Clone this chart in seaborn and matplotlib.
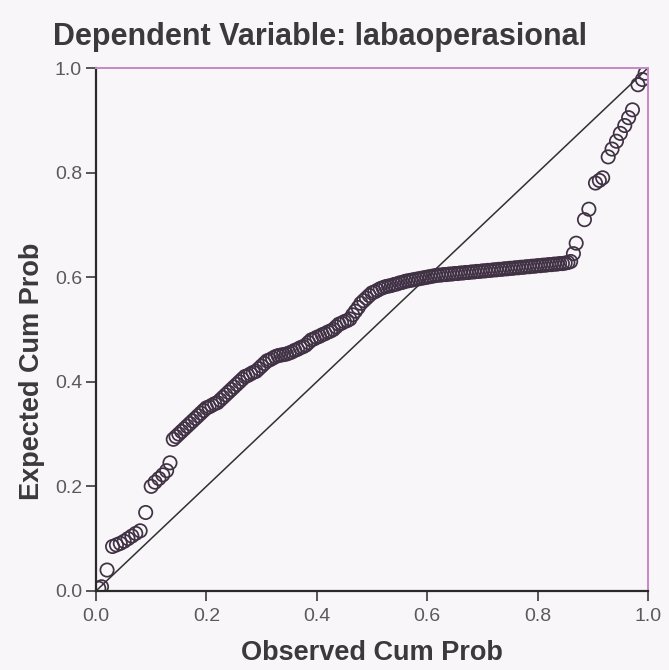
# Normal P-P plot of regression standardized residuals (SPSS style)

import matplotlib
matplotlib.use("Agg")
import matplotlib.pyplot as plt
import pandas as pd
import seaborn as sns

# Observed vs expected cumulative probabilities
observed_cum_prob = [
    # lower-left tail
    0.005, 0.010, 0.020, 0.030, 0.037, 0.044, 0.051, 0.058, 0.065, 0.072,
    0.080, 0.090, 0.100, 0.107, 0.114, 0.121, 0.128, 0.134,
    # rising section
    0.140, 0.145, 0.150, 0.155, 0.160, 0.165, 0.170, 0.175, 0.180, 0.185,
    0.190, 0.195, 0.200, 0.205, 0.210, 0.215, 0.220, 0.225, 0.230, 0.235,
    0.240, 0.245, 0.250, 0.255, 0.260, 0.265, 0.270, 0.275, 0.280, 0.285,
    0.290, 0.295, 0.300, 0.305, 0.310, 0.315, 0.320, 0.325, 0.330, 0.335,
    0.340, 0.345, 0.350, 0.355, 0.360, 0.365, 0.370, 0.375, 0.380, 0.385,
    0.390, 0.395, 0.400, 0.405, 0.410, 0.415, 0.420, 0.425, 0.430, 0.435,
    0.440, 0.445, 0.450, 0.455, 0.460, 0.465, 0.470, 0.475, 0.480, 0.485,
    0.490, 0.495, 0.500, 0.505, 0.510, 0.515, 0.520, 0.525, 0.530,
    # flat section
    0.535, 0.540, 0.545, 0.550, 0.555, 0.560, 0.565, 0.570, 0.575, 0.580,
    0.585, 0.590, 0.595, 0.600, 0.605, 0.610, 0.615, 0.620, 0.625, 0.630,
    0.635, 0.640, 0.645, 0.650, 0.655, 0.660, 0.665, 0.670, 0.675, 0.680,
    0.685, 0.690, 0.695, 0.700, 0.705, 0.710, 0.715, 0.720, 0.725, 0.730,
    0.735, 0.740, 0.745, 0.750, 0.755, 0.760, 0.765, 0.770, 0.775, 0.780,
    0.785, 0.790, 0.795, 0.800, 0.805, 0.810, 0.815, 0.820, 0.825, 0.830,
    0.835, 0.840, 0.845, 0.850, 0.855, 0.860,
    # upper-right tail
    0.865, 0.870, 0.885, 0.893, 0.905, 0.912, 0.918, 0.928, 0.935, 0.943,
    0.950, 0.958, 0.965, 0.972, 0.982, 0.990, 0.995,
]
expected_cum_prob = [
    0.005, 0.008, 0.040, 0.085, 0.088, 0.091, 0.095, 0.100, 0.105, 0.110,
    0.115, 0.150, 0.200, 0.208, 0.215, 0.222, 0.230, 0.245,
    0.290, 0.295, 0.300, 0.305, 0.310, 0.315, 0.320, 0.325, 0.330, 0.335,
    0.340, 0.345, 0.350, 0.352, 0.355, 0.358, 0.360, 0.365, 0.370, 0.375,
    0.380, 0.385, 0.390, 0.395, 0.400, 0.405, 0.410, 0.412, 0.415, 0.418,
    0.420, 0.425, 0.430, 0.435, 0.440, 0.442, 0.445, 0.448, 0.450, 0.451,
    0.452, 0.453, 0.455, 0.457, 0.460, 0.462, 0.465, 0.467, 0.470, 0.475,
    0.480, 0.482, 0.485, 0.487, 0.490, 0.492, 0.495, 0.497, 0.500, 0.505,
    0.510, 0.512, 0.515, 0.517, 0.520, 0.528, 0.535, 0.542, 0.550, 0.555,
    0.560, 0.565, 0.570, 0.572, 0.575, 0.578, 0.580, 0.582, 0.583,
    0.584, 0.586, 0.587, 0.589, 0.590, 0.592, 0.593, 0.594, 0.595, 0.596,
    0.597, 0.598, 0.599, 0.600, 0.601, 0.602, 0.603, 0.604, 0.604, 0.605,
    0.605, 0.606, 0.606, 0.607, 0.607, 0.608, 0.608, 0.609, 0.609, 0.610,
    0.610, 0.611, 0.611, 0.612, 0.612, 0.613, 0.613, 0.614, 0.614, 0.615,
    0.615, 0.616, 0.616, 0.617, 0.617, 0.618, 0.618, 0.619, 0.619, 0.620,
    0.620, 0.621, 0.621, 0.622, 0.622, 0.623, 0.623, 0.624, 0.624, 0.625,
    0.625, 0.626, 0.626, 0.627, 0.628, 0.630,
    0.645, 0.665, 0.710, 0.730, 0.780, 0.785, 0.790, 0.830, 0.845, 0.860,
    0.875, 0.890, 0.905, 0.920, 0.968, 0.978, 0.990,
]
tick_values = [0.0, 0.2, 0.4, 0.6, 0.8, 1.0]
tick_labels = ["0.0", "0.2", "0.4", "0.6", "0.8", "1.0"]

title_text = "Dependent Variable: labaoperasional"
x_label = "Observed Cum Prob"
y_label = "Expected Cum Prob"

df = pd.DataFrame({"observed": observed_cum_prob, "expected": expected_cum_prob})

sns.set_theme(style="white")
plt.rcParams["font.family"] = ["Liberation Sans", "DejaVu Sans"]

paper = "#f8f6f9"
ink = "#3a3a3a"
pink = "#c889c6"

fig = plt.figure(figsize=(6.69, 6.70), dpi=100, facecolor=paper)
ax = fig.add_axes([0.1435, 0.118, 0.825, 0.7805])
ax.set_facecolor(paper)

# reference line y = x
ax.axline((0, 0), slope=1, color="#303030", linewidth=1.1, zorder=1)

sns.scatterplot(
    data=df, x="observed", y="expected", ax=ax,
    marker="o", s=92, facecolor="none", edgecolor="#403244",
    linewidth=1.25, zorder=2,
)

ax.set_xlim(0, 1)
ax.set_ylim(0, 1)
ax.set_xticks(tick_values)
ax.set_xticklabels(tick_labels)
ax.set_yticks(tick_values)
ax.set_yticklabels(tick_labels)
ax.tick_params(axis="both", direction="out", length=7, width=1.2,
               color=ink, labelsize=14, labelcolor="#5a5a5a", pad=3)
ax.tick_params(axis="x", bottom=True, pad=5)
ax.tick_params(axis="y", left=True)

for side in ["left", "bottom"]:
    ax.spines[side].set_color("#2a2a2a")
    ax.spines[side].set_linewidth(1.6)
for side in ["top", "right"]:
    ax.spines[side].set_color(pink)
    ax.spines[side].set_linewidth(1.4)

ax.set_xlabel(x_label, fontsize=19.5, fontweight="bold", color=ink)
ax.xaxis.set_label_coords(0.5, -0.093)
ax.set_ylabel(y_label, fontsize=19.5, fontweight="bold", color=ink)
ax.yaxis.set_label_coords(-0.093, 0.42)

fig.text(0.079, 0.945, title_text, fontsize=22, fontweight="bold",
         color=ink, ha="left", va="center")

fig.savefig("out.png", dpi=100, facecolor=paper)
plt.close(fig)
